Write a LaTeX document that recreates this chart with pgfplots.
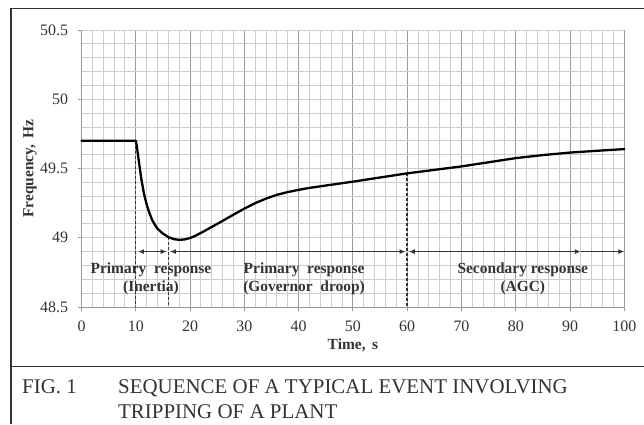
\documentclass[border=0pt]{standalone}
\usepackage{pgfplots}
\pgfplotsset{compat=1.18}
\usepackage{fontspec}
\setmainfont{Liberation Serif}
\usetikzlibrary{arrows.meta}

% frequency trace after the loss of a plant
\pgfplotstableread{
t     f
0     49.700
10    49.700
10.2  49.660
10.5  49.570
11    49.430
11.5  49.320
12    49.240
12.5  49.180
13    49.130
13.5  49.095
14    49.065
15    49.030
16    49.005
17    48.990
18    48.985
19    48.988
20    48.998
21    49.015
22    49.035
24    49.078
26    49.122
28    49.167
30    49.210
32    49.250
34    49.283
36    49.310
38    49.330
40    49.346
42    49.360
45    49.377
50    49.405
55    49.435
60    49.465
65    49.490
70    49.515
75    49.545
80    49.575
85    49.597
90    49.615
95    49.628
100   49.640
}\freqdata

\definecolor{gridminor}{HTML}{CDCDCD}
\definecolor{gridmajor}{HTML}{9A9A9A}
\definecolor{framecol}{HTML}{333333}

\tikzset{periodarrow/.style={framecol, line width=1.3bp, >={Latex[length=6bp,width=5bp]}}}

\begin{document}
\begin{tikzpicture}[x=1bp,y=1bp]
\path[use as bounding box] (0,0) rectangle (644,424);
% figure frame and caption rule
\draw[line width=1.4bp, framecol] (11,0) -- (11,415.5) -- (644,415.5);
\draw[line width=1.4bp, framecol] (11,57.5) -- (644,57.5);
% caption
\node[anchor=base west, inner sep=0pt, font=\fontsize{21}{25}\selectfont, text=framecol] at (22,31) {FIG. 1};
\node[anchor=base west, inner sep=0pt, font=\fontsize{21}{25}\selectfont, text=framecol] at (118,31) {SEQUENCE OF A TYPICAL EVENT INVOLVING};
\node[anchor=base west, inner sep=0pt, font=\fontsize{21}{25}\selectfont, text=framecol] at (118,6) {TRIPPING OF A PLANT};

\begin{axis}[
  at={(81.5bp,117bp)}, anchor=south west,
  scale only axis, width=542.8bp, height=277bp,
  xmin=0, xmax=100, ymin=48.5, ymax=50.5,
  xtick={0,10,...,100},
  ytick={48.5,49,49.5,50,50.5},
  yticklabels={48.5,49,49.5,50,50.5},
  minor x tick num=4,
  minor y tick num=4,
  grid=both,
  minor grid style={gridminor, line width=0.9bp},
  major x grid style={gridmajor, line width=0.9bp},
  major y grid style={gridminor, line width=0.9bp},
  axis x line=bottom, axis y line=left,
  axis line style={-, gridmajor, line width=1bp},
  tick align=outside,
  major tick length=4bp, minor tick length=0pt,
  tick style={gridmajor, line width=0.9bp},
  /pgf/number format/assume math mode=true,
  tick label style={font=\fontsize{16}{18}\selectfont, text=framecol},
  xticklabel style={yshift=-6bp},
  yticklabel style={xshift=-6bp},
  xlabel={Time,\ \,s},
  ylabel={Frequency,\, Hz},
  every axis x label/.style={at={(axis description cs:0.5,0)}, yshift=-38bp, anchor=center,
    font=\fontsize{15.5}{18}\selectfont\bfseries, text=framecol},
  every axis y label/.style={at={(axis description cs:-0.095,0.5)}, rotate=90, anchor=center,
    font=\fontsize{15.5}{18}\selectfont\bfseries, text=framecol},
  clip=false,
]
% event markers
\addplot[framecol, line width=1.4bp, dash pattern=on 3bp off 2bp] coordinates {(10,49.7) (10,48.5)};
\addplot[framecol, line width=1.4bp, dash pattern=on 3bp off 2bp] coordinates {(16,49.005) (16,48.5)};
\addplot[framecol, line width=1.4bp, dash pattern=on 3bp off 2bp] coordinates {(60,49.465) (60,48.5)};
% response period arrows
\addplot[periodarrow, <->] coordinates {(10.4,48.9) (15.7,48.9)};
\addplot[periodarrow, <->] coordinates {(16.3,48.9) (59.7,48.9)};
\addplot[periodarrow, <->] coordinates {(60.3,48.9) (92,48.9)};
\addplot[periodarrow, ->] coordinates {(92,48.9) (100,48.9)};
% frequency response
\addplot[black, line width=2.3bp, line join=round, line cap=round] table[x=t, y=f] {\freqdata};
% period labels
\node[align=center, font=\fontsize{15.5}{18}\selectfont\bfseries, text=framecol] at (axis cs:12.8,48.705) {Primary\ \ response\\(Inertia)};
\node[align=center, font=\fontsize{15.5}{18}\selectfont\bfseries, text=framecol] at (axis cs:41,48.705) {Primary\ \ response\\(Governor\ \ droop)};
\node[align=center, font=\fontsize{15.5}{18}\selectfont\bfseries, text=framecol] at (axis cs:81.3,48.705) {Secondary\ response\\(AGC)};
\end{axis}
\end{tikzpicture}
\end{document}
